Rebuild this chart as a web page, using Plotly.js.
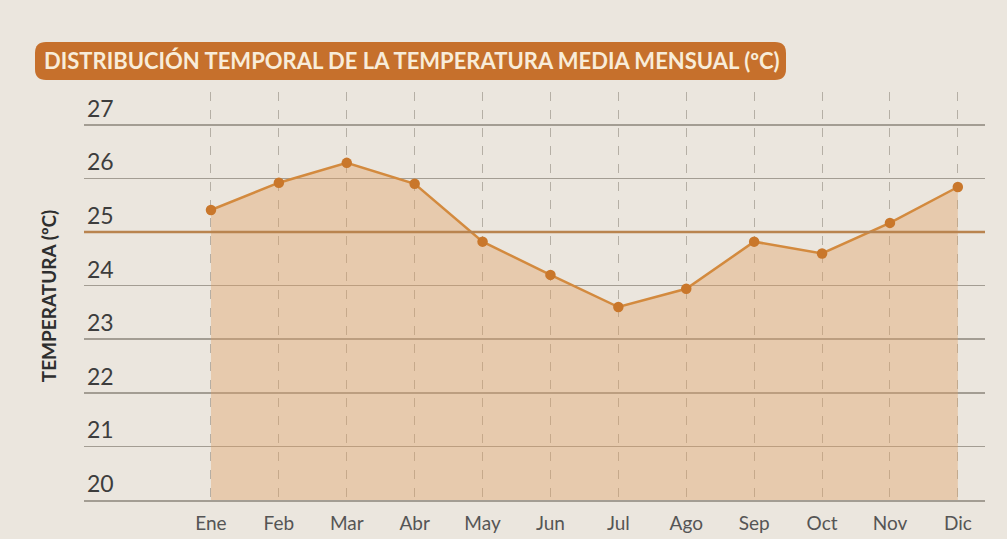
<!DOCTYPE html>
<html>
<head>
<meta charset="utf-8">
<script src="https://cdn.plot.ly/plotly-3.0.1.min.js"></script>
<style>
html,body{margin:0;padding:0;background:#ebe6de;}
#chart{width:1007px;height:539px;}
</style>
</head>
<body>
<div id="chart"></div>
<script>
const months = ["Ene","Feb","Mar","Abr","May","Jun","Jul","Ago","Sep","Oct","Nov","Dic"];
const temperature = [25.41, 25.92, 26.29, 25.90, 24.82, 24.20, 23.60, 23.94, 24.82, 24.60, 25.17, 25.84];
const meanLine = 25;
const yTicks = [20, 21, 22, 23, 24, 25, 26, 27];
const titleText = "DISTRIBUCIÓN TEMPORAL DE LA TEMPERATURA MEDIA MENSUAL (ºC)";
const yTitle = "TEMPERATURA (ºC)";

const W = 1007, H = 539;
const L = 84, R = 985, T = 92, B = 500;
const unitPx = 53.6;
const yTop = 20 + (B - T) / unitPx;
const px2x = p => (p - L) / (R - L);
const py2y = p => (B - p) / (B - T);

function roundRect(x0, y0, x1, y1, r) {
  const rx = r / (R - L), ry = r / (B - T);
  const X0 = px2x(x0), X1 = px2x(x1), Ytop = py2y(y0), Ybot = py2y(y1);
  return `M ${X0+rx},${Ytop} L ${X1-rx},${Ytop} Q ${X1},${Ytop} ${X1},${Ytop-ry} L ${X1},${Ybot+ry} Q ${X1},${Ybot} ${X1-rx},${Ybot} L ${X0+rx},${Ybot} Q ${X0},${Ybot} ${X0},${Ybot+ry} L ${X0},${Ytop-ry} Q ${X0},${Ytop} ${X0+rx},${Ytop} Z`;
}

const trace = {
  x: months.map((m, i) => i),
  y: temperature,
  type: "scatter",
  mode: "lines+markers",
  fill: "tozeroy",
  fillcolor: "rgba(226,160,100,0.40)",
  line: {color: "#d38a3e", width: 2.5},
  marker: {color: "#c9772b", size: 10.5},
  hoverinfo: "skip"
};

const layout = {
  width: W, height: H,
  paper_bgcolor: "#ebe6de",
  plot_bgcolor: "rgba(0,0,0,0)",
  margin: {l: L, r: W - R, t: T, b: H - B},
  showlegend: false,
  font: {family: "Lato, 'Open Sans', sans-serif", color: "#444"},
  title: {
    text: titleText,
    xref: "container", yref: "container",
    x: 44 / W, xanchor: "left",
    y: 1 - 61 / H, yanchor: "middle",
    font: {family: "Lato, sans-serif", size: 22, color: "#f8ecd9", weight: "bold"}
  },
  xaxis: {
    range: [-1.87, 11.4],
    tickmode: "array",
    tickvals: months.map((m, i) => i),
    ticktext: months,
    showgrid: true,
    griddash: "dash",
    gridcolor: "#b5afa5",
    gridwidth: 1,
    showline: true,
    linecolor: "#a39d93",
    linewidth: 1.5,
    zeroline: false,
    ticks: "outside",
    ticklen: 6,
    tickcolor: "rgba(0,0,0,0)",
    tickfont: {size: 19, color: "#555"},
    fixedrange: true
  },
  yaxis: {
    range: [20, yTop],
    tickmode: "array",
    tickvals: yTicks,
    ticktext: yTicks.map(String),
    ticklabelposition: "inside top",
    ticks: "",
    showgrid: true,
    gridcolor: "#a39d93",
    gridwidth: 1.5,
    zeroline: false,
    showline: false,
    tickfont: {size: 23, color: "#3d3d3d"},
    title: {text: yTitle, standoff: 25, font: {size: 19, color: "#2e2e2e", weight: "bold"}},
    fixedrange: true
  },
  shapes: [
    {type: "path", xref: "paper", yref: "paper", path: roundRect(35, 42, 786, 80, 11),
     fillcolor: "#c6702c", line: {width: 0}, layer: "above"},
    {type: "line", xref: "paper", yref: "y", x0: 0, x1: 1, y0: meanLine, y1: meanLine,
     line: {color: "#b9844f", width: 2.5}, layer: "above"}
  ]
};

Plotly.newPlot("chart", [trace], layout, {displayModeBar: false, staticPlot: true});
</script>
</body>
</html>
